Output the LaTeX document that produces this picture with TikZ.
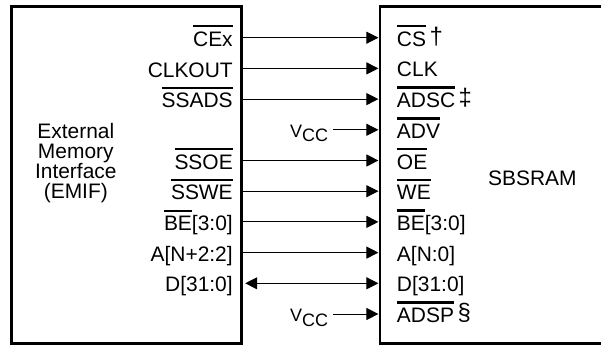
\documentclass[tikz,border=0pt]{standalone}
\usepackage{fontspec}
\setmainfont{Liberation Sans}
\usetikzlibrary{arrows.meta}

% active-low signal name with a heavy bar
\newcommand{\lowsig}[1]{\sbox0{#1}\rlap{\rule[\dimexpr\ht0+3.1pt\relax]{\wd0}{1.6pt}}\usebox0}
\newcommand{\fnmark}[1]{\hspace{2.5pt}\raisebox{0.1em}{\fontsize{17}{17}\selectfont #1}}
\newcommand{\vcc}{{\fontsize{12.8}{12.8}\selectfont V\raisebox{-3.3pt}{CC}}}

\tikzset{
  box/.style={line width=2.1pt},
  sig/.style={line width=0.7pt,-{Triangle[length=0.3cm,width=0.3cm]}},
  bisig/.style={line width=0.7pt,{Triangle[length=0.3cm,width=0.3cm]}-{Triangle[length=0.3cm,width=0.3cm]}},
  outpin/.style={anchor=base east,inner sep=0pt},
  inpin/.style={anchor=base west,inner sep=0pt}
}

\begin{document}
\begin{tikzpicture}[x=1cm,y=1cm,every node/.style={font=\fontsize{14.9}{17}\selectfont}]
  \useasboundingbox (0,0) rectangle (15.025,8.625);
  \clip (0,0) rectangle (15.025,8.625);

  % the two blocks
  \draw[box] (0.283,0.0375) rectangle (6.04,8.4625);
  \draw[box] (9.5,0.0375) rectangle (15.6,8.4625);
  \node[align=center,inner sep=0pt,font=\fontsize{14.9}{14.3}\selectfont] (emif) at (1.895,4.55)
    {External\\Memory\\Interface\\(EMIF)};
  \node[inner sep=0pt] (sbsram) at (13.31,4.17) {SBSRAM};

  % pins on the EMIF side
  \coordinate (cex)    at (6.08,7.6825);
  \coordinate (clkout) at (6.08,6.915);
  \coordinate (ssads)  at (6.08,6.1475);
  \coordinate (ssoe)   at (6.08,4.6125);
  \coordinate (sswe)   at (6.08,3.845);
  \coordinate (ebe)    at (6.08,3.0775);
  \coordinate (ea)     at (6.08,2.31);
  \coordinate (ed)     at (6.08,1.5425);

  % pins on the SBSRAM side
  \coordinate (cs)   at (9.46,7.6825);
  \coordinate (clk)  at (9.46,6.915);
  \coordinate (adsc) at (9.46,6.1475);
  \coordinate (adv)  at (9.46,5.38);
  \coordinate (oe)   at (9.46,4.6125);
  \coordinate (we)   at (9.46,3.845);
  \coordinate (sbe)  at (9.46,3.0775);
  \coordinate (sa)   at (9.46,2.31);
  \coordinate (sd)   at (9.46,1.5425);
  \coordinate (adsp) at (9.46,0.775);

  % EMIF labels
  \node[outpin] (lcex)    at (5.825,7.465)  {\lowsig{CEx}};
  \node[outpin] (lclkout) at (5.825,6.6975) {CLKOUT};
  \node[outpin] (lssads)  at (5.825,5.93)   {\lowsig{SSADS}};
  \node[outpin] (lssoe)   at (5.825,4.395)  {\lowsig{SSOE}};
  \node[outpin] (lsswe)   at (5.825,3.6275) {\lowsig{SSWE}};
  \node[outpin] (lebe)    at (5.825,2.86)   {\lowsig{BE}[3:0]};
  \node[outpin] (lea)     at (5.825,2.0925) {A[N+2:2]};
  \node[outpin] (led)     at (5.825,1.325)  {D[31:0]};

  % SBSRAM labels
  \node[inpin] (lcs)   at (9.9175,7.4675) {\lowsig{CS}\fnmark{†}};
  \node[inpin] (lclk)  at (9.9175,6.70)   {CLK};
  \node[inpin] (ladsc) at (9.9175,5.9325) {\lowsig{ADSC}\fnmark{‡}};
  \node[inpin] (ladv)  at (9.9175,5.165)  {\lowsig{ADV}};
  \node[inpin] (loe)   at (9.9175,4.3975) {\lowsig{OE}};
  \node[inpin] (lwe)   at (9.9175,3.63)   {\lowsig{WE}};
  \node[inpin] (lsbe)  at (9.9175,2.8625) {\lowsig{BE}[3:0]};
  \node[inpin] (lsa)   at (9.9175,2.095)  {A[N:0]};
  \node[inpin] (lsd)   at (9.9175,1.3275) {D[31:0]};
  \node[inpin] (ladsp) at (9.9175,0.56)   {\lowsig{ADSP}\fnmark{§}};

  % supply ties
  \node[outpin] (vcca) at (8.21,5.195) {\vcc};
  \node[outpin] (vccb) at (8.21,0.59)  {\vcc};

  % connections
  \draw[sig] (cex) -- (cs);
  \draw[sig] (clkout) -- (clk);
  \draw[sig] (ssads) -- (adsc);
  \draw[sig] ([xshift=1.15mm]vcca.east |- adv) -- (adv);
  \draw[sig] (ssoe) -- (oe);
  \draw[sig] (sswe) -- (we);
  \draw[sig] (ebe) -- (sbe);
  \draw[sig] (ea) -- (sa);
  \draw[bisig] ([xshift=0.5mm]ed) -- (sd);
  \draw[sig] ([xshift=1.15mm]vccb.east |- adsp) -- (adsp);
\end{tikzpicture}
\end{document}
